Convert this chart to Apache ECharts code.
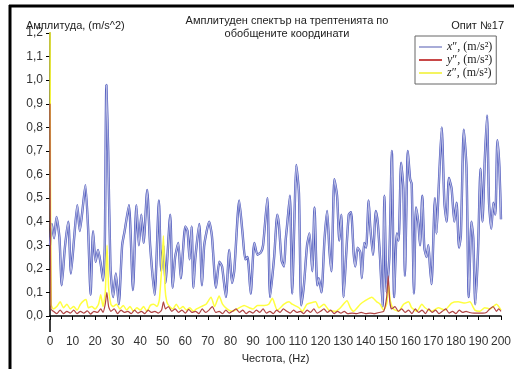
<!DOCTYPE html>
<html><head><meta charset="utf-8">
<script src="https://cdn.jsdelivr.net/npm/echarts@6/dist/echarts.min.js"></script>
<style>html,body{margin:0;padding:0;background:#fff}#c{width:514px;height:369px}</style>
</head><body><div id="c"></div>
<script>
// Blue x'' series: frequency (Hz) and amplitude
const xFreq = [0,0.8,1.8,2.9,4.2,5.2,6.6,8.1,9.3,10.7,12.1,13.2,14.3,15.7,16.9,18.0,19.1,20.2,21.3,22.5,23.5,24.3,25.0,25.8,26.8,28.0,29.2,30.5,32.0,33.1,35.0,36.8,38.3,39.4,40.5,41.5,43.1,44.4,46.4,48.3,49.3,50.3,51.2,53.3,54.4,55.5,56.9,58.0,60.0,61.0,61.9,62.8,63.6,64.4,66.2,67.4,68.4,70.6,71.8,73.6,75.1,76.3,78.0,79.5,80.7,81.7,83.9,85.4,86.6,87.6,89.0,90.6,92.0,93.5,94.5,96.4,97.6,99.4,100.8,101.5,102.7,103.8,104.5,105.3,106.4,107.4,108.5,109.2,110.4,111.4,112.6,114.0,115.1,116.3,117.3,118.5,119.2,120.4,121.7,122.9,123.9,124.8,126.1,127.3,128.3,129.2,130.2,131.4,132.5,133.5,134.7,135.4,136.4,137.6,138.3,139.3,140.2,141.3,142.0,143.2,144.5,145.4,146.4,147.5,148.3,149.3,150.5,151.6,152.6,153.8,154.6,155.7,156.7,157.4,158.7,159.7,160.4,161.4,162.3,163.4,164.1,165.1,166.0,167.0,167.8,168.5,169.2,170.7,171.4,172.4,173.7,174.9,175.9,176.9,178.1,179.3,180.3,181.4,182.2,183.5,184.7,185.7,186.9,187.7,188.6,189.8,190.9,191.8,192.8,193.8,194.7,195.7,196.6,197.5,198.4,199.3,200.0];
const xAmp = [0.30,0.39,0.33,0.42,0.33,0.13,0.29,0.40,0.18,0.33,0.47,0.36,0.44,0.555,0.37,0.09,0.36,0.23,0.28,0.22,0.15,0.30,0.98,0.70,0.21,0.08,0.18,0.05,0.30,0.36,0.47,0.11,0.47,0.30,0.43,0.31,0.535,0.30,0.09,0.49,0.19,0.30,0.14,0.43,0.12,0.25,0.31,0.16,0.38,0.36,0.24,0.38,0.12,0.24,0.39,0.13,0.30,0.40,0.34,0.12,0.23,0.21,0.08,0.28,0.14,0.19,0.49,0.35,0.24,0.25,0.095,0.31,0.26,0.27,0.30,0.50,0.08,0.25,0.43,0.39,0.235,0.21,0.32,0.40,0.51,0.095,0.45,0.64,0.52,0.045,0.13,0.30,0.35,0.19,0.46,0.13,0.16,0.10,0.32,0.445,0.28,0.19,0.58,0.51,0.32,0.43,0.08,0.27,0.43,0.44,0.26,0.21,0.29,0.27,0.16,0.31,0.29,0.49,0.38,0.26,0.445,0.39,0.24,0.04,0.51,0.10,0.25,0.70,0.08,0.35,0.32,0.65,0.54,0.17,0.70,0.58,0.56,0.095,0.46,0.39,0.30,0.51,0.29,0.25,0.30,0.21,0.135,0.50,0.35,0.55,0.80,0.48,0.40,0.585,0.54,0.40,0.48,0.29,0.34,0.79,0.63,0.08,0.40,0.33,0.05,0.27,0.625,0.40,0.66,0.85,0.48,0.37,0.48,0.43,0.745,0.63,0.41];

// Red y'' series
const yFreq = [0,0.4,1.5,3,4.5,6,7.5,9,10.5,12,13.5,15,16.5,18,19.5,21,22.5,23.5,24.5,25.2,26,27,28.5,30,31.5,33,34.5,36,37.5,39,40.5,42,43.5,45,46.5,48,49.5,50.3,51.2,52.5,54,55.5,57,58.5,60,61.5,63,64.5,66,67.5,69,70.5,72,73.5,75,76.5,78,79.5,81,82.5,84,85.5,87,88.5,90,91.5,93,94.5,96,97.5,99,100.5,102,103.5,105,106.5,108,109.5,111,112.5,114,115.5,117,118.5,120,121.5,123,124.5,126,127.5,129,130.5,132,134,136,138,140,142,144,146,148,149.3,150,150.7,151.5,153,154.5,156,157.5,159,160.5,162,163.5,165,166.5,168,169.5,171,172.5,174,175.5,177,178.5,180,181.5,183,184.5,186,188,190,192,193.5,195,196.5,198,199,200];
const yAmp = [0.90,0.03,0.02,0.01,0.025,0.01,0.02,0.012,0.025,0.01,0.02,0.012,0.022,0.008,0.02,0.015,0.03,0.015,0.05,0.10,0.04,0.02,0.03,0.01,0.025,0.015,0.02,0.01,0.025,0.012,0.02,0.01,0.025,0.015,0.02,0.012,0.025,0.06,0.03,0.04,0.02,0.03,0.015,0.025,0.012,0.028,0.015,0.02,0.01,0.03,0.015,0.025,0.04,0.015,0.02,0.01,0.025,0.012,0.02,0.03,0.015,0.025,0.01,0.02,0.012,0.025,0.015,0.03,0.012,0.02,0.01,0.025,0.015,0.03,0.02,0.012,0.025,0.015,0.02,0.01,0.025,0.015,0.03,0.012,0.02,0.03,0.015,0.025,0.01,0.02,0.012,0.02,0.01,0.012,0.01,0.015,0.01,0.012,0.01,0.015,0.02,0.08,0.17,0.06,0.03,0.04,0.02,0.03,0.015,0.025,0.01,0.03,0.015,0.025,0.01,0.03,0.015,0.025,0.01,0.02,0.03,0.012,0.02,0.01,0.025,0.015,0.02,0.015,0.012,0.012,0.012,0.015,0.03,0.04,0.02,0.03,0.02];

// Yellow z'' series
const zFreq = [0,0.5,1.5,3,4.5,6,7.5,9,10.5,12,13.5,15,16,17,18.5,20,21.5,22.5,23.5,24.5,25.3,26,27,28,29.5,31,32.5,34,35.5,37,38.5,40,41.5,43,44.5,46,47.5,48.5,49.5,50.3,51,51.8,53,54.5,56,57.5,59,60.5,62,63.5,65,67,69.2,71.4,73,75,76.5,78.5,80.7,83,86.1,88.3,90,92,95,97,98.6,100.8,103.8,106,107.4,110.4,111.9,114,117.8,119.2,121.5,123.7,126.6,128.8,131.7,133.2,134.6,137.6,139.8,142.7,144.9,146.4,147.9,149.3,150.2,150.9,152.3,154.6,156.8,159,160.4,162.7,164.9,166.3,169.2,172.2,175.1,178.1,181,184,186.2,188.4,190.6,192.8,195.1,198,200];
const zAmp = [1.25,0.05,0.03,0.04,0.06,0.035,0.05,0.03,0.04,0.025,0.05,0.065,0.07,0.035,0.04,0.03,0.05,0.09,0.04,0.10,0.30,0.12,0.05,0.04,0.05,0.03,0.045,0.025,0.04,0.02,0.035,0.025,0.04,0.02,0.045,0.05,0.04,0.07,0.20,0.34,0.12,0.06,0.04,0.03,0.05,0.03,0.04,0.025,0.035,0.02,0.03,0.04,0.05,0.08,0.04,0.085,0.05,0.03,0.02,0.03,0.045,0.035,0.03,0.045,0.045,0.05,0.075,0.025,0.05,0.06,0.05,0.035,0.02,0.05,0.06,0.035,0.05,0.025,0.02,0.035,0.065,0.035,0.02,0.05,0.065,0.08,0.06,0.05,0.025,0.05,0.13,0.065,0.03,0.02,0.05,0.06,0.035,0.02,0.05,0.035,0.02,0.035,0.025,0.055,0.06,0.055,0.06,0.025,0.02,0.035,0.03,0.05,0.025];

const xTickLabels = ['0','10','20','30','40','50','60','70','80','90','100','110','120','130','140','150','160','170','180','190','200'];
const legendNames = ['x', 'y', 'z'];

function pairs(f, a) { return f.map((v, i) => [v, a[i]]); }

const chart = echarts.init(document.getElementById('c'));
const base = 'Liberation Sans, Arial, sans-serif';
const serif = 'Liberation Serif, Times New Roman, serif';
chart.setOption({
  animation: false,
  backgroundColor: '#fff',
  title: [
    { text: 'Амплитуден спектър на трептенията по\nобобщените координати', left: 282, top: 9, textAlign: 'center',
      textStyle: { fontFamily: base, fontSize: 11, fontWeight: 'normal', color: '#222', lineHeight: 13 } },
    { text: 'Амплитуда, (m/s^2)', left: 21, top: 15,
      textStyle: { fontFamily: base, fontSize: 11, fontWeight: 'normal', color: '#222' } },
    { text: 'Опит №17', right: 5, top: 15,
      textStyle: { fontFamily: base, fontSize: 11, fontWeight: 'normal', color: '#222' } }
  ],
  legend: {
    data: legendNames, orient: 'vertical', left: 415, top: 36,
    icon: 'rect', itemWidth: 23, itemHeight: 2, itemGap: 1, padding: [5, 4, 5, 4],
    borderColor: '#666', borderWidth: 1, backgroundColor: '#fff',
    formatter: n => '{i|' + n + '}{t|″, (m/s²)}',
    textStyle: { fontFamily: serif, fontSize: 12, color: '#222', lineHeight: 12,
      rich: { i: { fontStyle: 'italic', fontFamily: serif, fontSize: 12, lineHeight: 12 },
              t: { fontFamily: serif, fontSize: 12, lineHeight: 12 } } }
  },
  grid: { left: 50, right: 11, top: 33, bottom: 50, containLabel: false },
  xAxis: {
    type: 'value', min: 0, max: 200, interval: 10, offset: 13,
    axisLine: { lineStyle: { color: '#000', width: 1.5 } },
    axisTick: { length: 4, lineStyle: { color: '#000' } },
    minorTick: { show: true, splitNumber: 2, length: 3, lineStyle: { color: '#000' } },
    splitLine: { show: false },
    axisLabel: { margin: 7, fontFamily: base, fontSize: 12, color: '#333',
      formatter: v => xTickLabels[Math.round(v / 10)] ?? '' },
    name: 'Честота, (Hz)', nameLocation: 'middle', nameGap: 24,
    nameTextStyle: { fontFamily: base, fontSize: 11, color: '#222' }
  },
  yAxis: {
    type: 'value', min: 0, max: 1.2, interval: 0.1,
    axisLine: { show: true, lineStyle: { color: '#000', width: 1.5 } },
    axisTick: { show: true, length: 4, lineStyle: { color: '#000' } },
    splitLine: { show: false },
    axisLabel: { margin: 7, fontFamily: base, fontSize: 12, color: '#333',
      formatter: v => v.toFixed(1).replace('.', ',') }
  },
  series: [
    { name: 'xo', type: 'line', data: pairs(xFreq, xAmp), showSymbol: false, symbol: 'none', smooth: 0.2,
      lineStyle: { color: '#4d58bd', width: 2.4 }, itemStyle: { color: '#4d58bd' }, z: 2 },
    { name: 'x', type: 'line', data: pairs(xFreq, xAmp), showSymbol: false, symbol: 'none', smooth: 0.2,
      lineStyle: { color: '#b6bae2', width: 1.2 }, itemStyle: { color: '#a8acd8' }, z: 3 },
    { name: 'z', type: 'line', data: pairs(zFreq, zAmp), showSymbol: false, symbol: 'none', smooth: 0.2,
      lineStyle: { color: '#ffff40', width: 1.5 }, itemStyle: { color: '#f4f460' }, z: 4 },
    { name: 'y', type: 'line', data: pairs(yFreq, yAmp), showSymbol: false, symbol: 'none', smooth: 0.2,
      lineStyle: { color: '#b04545', width: 1.2 }, itemStyle: { color: '#c84848' }, z: 5 }
  ],
  graphic: [
    { type: 'line', shape: { x1: 9, y1: 6, x2: 514, y2: 6 }, style: { stroke: '#000', lineWidth: 3 } },
    { type: 'line', shape: { x1: 10, y1: 5, x2: 10, y2: 369 }, style: { stroke: '#000', lineWidth: 3 } },
    { type: 'line', shape: { x1: 50, y1: 319, x2: 50, y2: 332 }, style: { stroke: '#000', lineWidth: 1.5 } }
  ]
});
</script></body></html>
